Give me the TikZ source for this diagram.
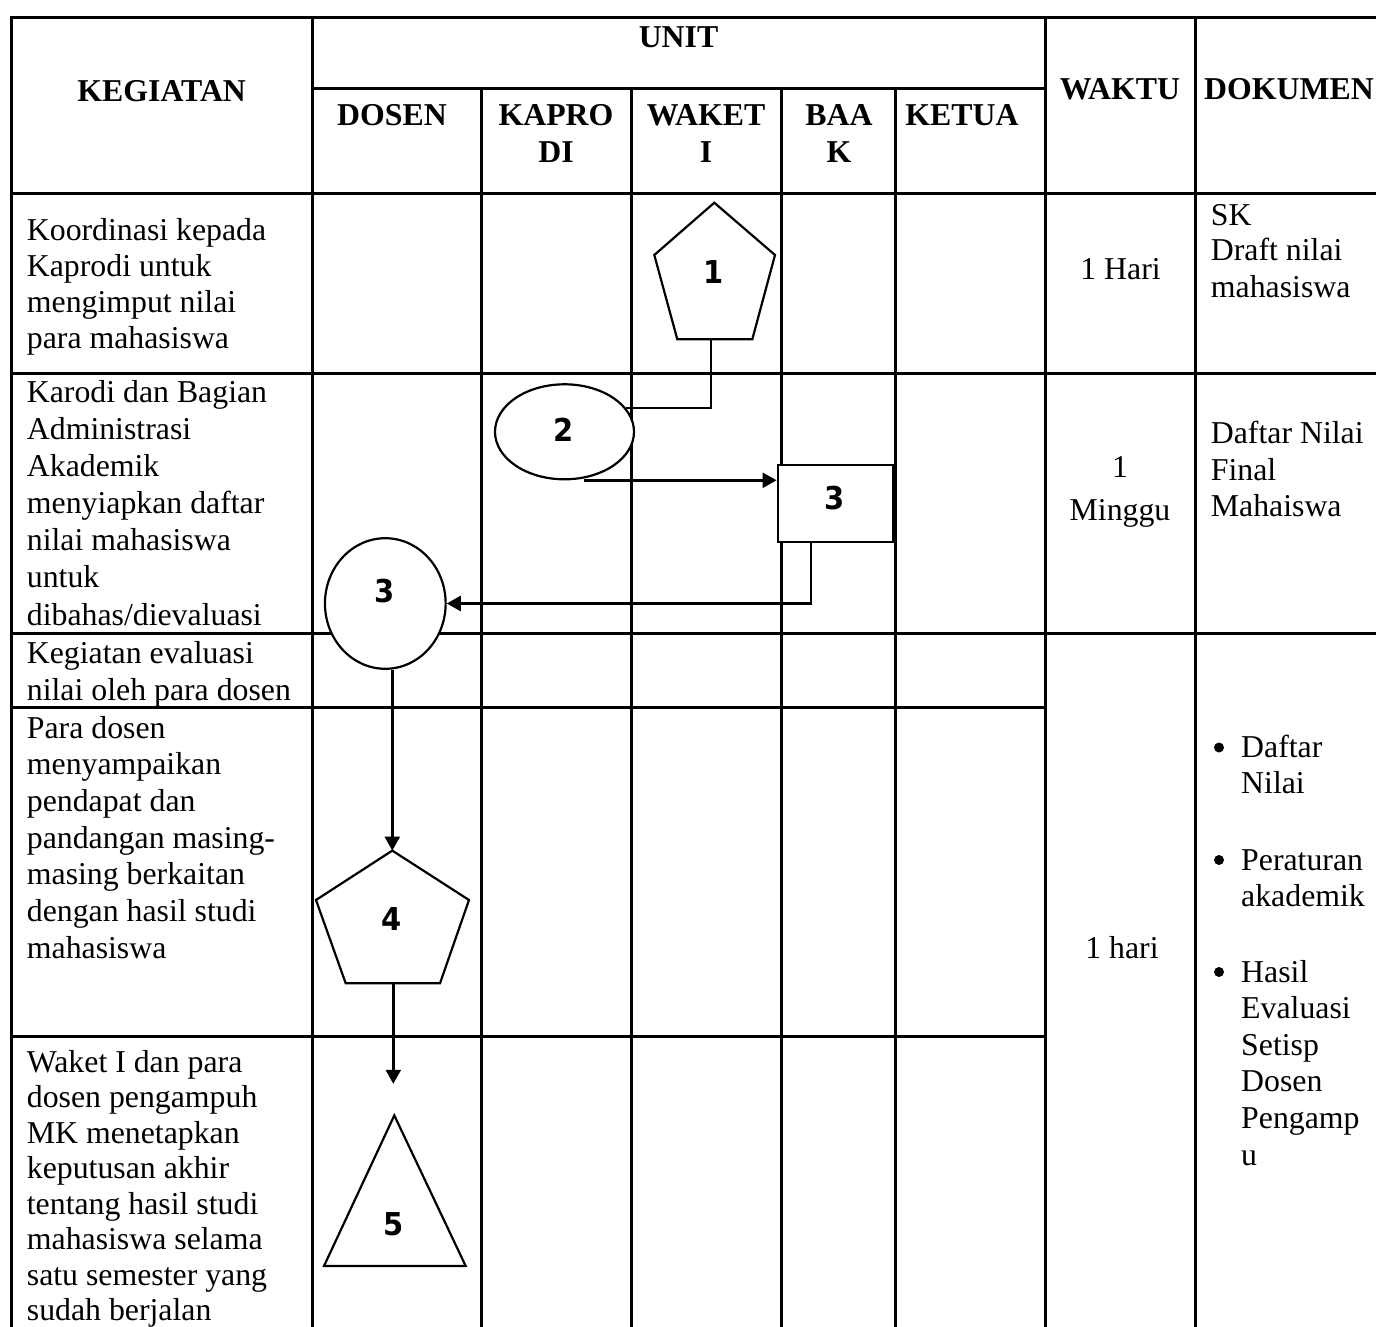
\documentclass[tikz,border=0pt]{standalone}
\usepackage{fontspec}
\setmainfont{Liberation Serif}
\newfontfamily\numfont[FakeStretch=0.92]{DejaVu Sans Bold}
\usetikzlibrary{shapes.geometric,arrows.meta,calc}
\begin{document}
\begin{tikzpicture}[x=1pt,y=-1pt,
  grid/.style={line width=3pt},
  shp/.style={draw, line width=2.2pt, line join=miter, fill=white},
  conn/.style={line width=2.4pt},
  arr/.style={conn,-{Triangle[length=14pt,width=15pt]}},
  body/.style={inner sep=0pt, anchor=base west, font=\fontsize{31.8}{36.6}\selectfont},
  bodyc/.style={body, anchor=base},
  head/.style={inner sep=0pt, anchor=base, font=\fontsize{31.8}{36.6}\selectfont\bfseries},
  num/.style={inner sep=0pt, font=\fontsize{31.5}{32}\selectfont\numfont},
  bul/.style={circle, fill, minimum size=10pt, inner sep=0pt}
]
\useasboundingbox[fill=white] (0,0) rectangle (1376,1327);

% ---------- table grid ----------
\draw[grid] (11.5,1327) -- (11.5,17.7) -- (1376,17.7);
\draw[grid] (312,88.3) -- (1045,88.3);
\draw[grid] (11.5,193.5) -- (1376,193.5);
\draw[grid] (11.5,373) -- (1376,373);
\draw[grid] (11.5,633.5) -- (1376,633.5);
\draw[grid] (11.5,707.7) -- (1045,707.7);
\draw[grid] (11.5,1036) -- (1045,1036);
\draw[grid] (312,17.7) -- (312,1327);
\foreach \xx in {481.7,631.7,781.7,895}
  \draw[grid] (\xx,88.3) -- (\xx,1327);
\draw[grid] (1045,17.7) -- (1045,1327);
\draw[grid] (1195.7,17.7) -- (1195.7,1327);

% ---------- header ----------
\node[head] (hunit) at (678.5,48) {UNIT};
\node[head] (hkeg) at (161.7,101.7) {KEGIATAN};
\node[head] (hdos) at (392,126) {DOSEN};
\node[head] (hkap1) at (556,126) {KAPRO};
\node[head] (hkap2) at (556,162) {DI};
\node[head] (hwak1) at (706,126) {WAKET};
\node[head] (hwak2) at (706,162) {I};
\node[head] (hbaa1) at (839,126) {BAA};
\node[head] (hbaa2) at (839,162) {K};
\node[head] (hket) at (962,126) {KETUA};
\node[head] (hwkt) at (1120,100) {WAKTU};
\node[head] (hdok) at (1289,100) {DOKUMEN};

% ---------- kegiatan column ----------
\foreach \t [count=\i from 0] in {Koordinasi kepada,Kaprodi untuk,mengimput nilai,para mahasiswa}
  \node[body] (ra\i) at (26.7,240+36.3*\i) {\t};
\foreach \t [count=\i from 0] in {Karodi dan Bagian,Administrasi,Akademik,menyiapkan daftar,nilai mahasiswa,untuk,dibahas/dievaluasi}
  \node[body] (rb\i) at (26.7,402.7+37.05*\i) {\t};
\foreach \t [count=\i from 0] in {Kegiatan evaluasi,nilai oleh para dosen}
  \node[body] (rc\i) at (26.7,663.3+36.8*\i) {\t};
\foreach \t [count=\i from 0] in {Para dosen,menyampaikan,pendapat dan,pandangan masing-,masing berkaitan,dengan hasil studi,mahasiswa}
  \node[body] (rd\i) at (26.7,738.3+36.67*\i) {\t};
\foreach \t [count=\i from 0] in {Waket I dan para,dosen pengampuh,MK menetapkan,keputusan akhir,tentang hasil studi,mahasiswa selama,satu semester yang,sudah berjalan}
  \node[body] (re\i) at (26.7,1072+35.5*\i) {\t};

% ---------- waktu column ----------
\node[bodyc] (w1) at (1120.5,279) {1 Hari};
\node[bodyc] (w2a) at (1120,477.5) {1};
\node[bodyc] (w2b) at (1120,520) {Minggu};
\node[bodyc] (w3) at (1122,958) {1 hari};

% ---------- dokumen column ----------
\node[body] (d1a) at (1210.7,225) {SK};
\node[body] (d1b) at (1210.7,260.7) {Draft nilai};
\node[body] (d1c) at (1210.7,297.3) {mahasiswa};
\node[body] (d2a) at (1210.7,443.3) {Daftar Nilai};
\node[body] (d2b) at (1210.7,480) {Final};
\node[body] (d2c) at (1210.7,516.7) {Mahaiswa};
\node[bul] (b1) at (1219,747.5) {};
\node[body] (d3a) at (1241,757.5) {Daftar};
\node[body] (d3b) at (1241,793.5) {Nilai};
\node[bul] (b2) at (1219,860) {};
\node[body] (d3c) at (1241,870) {Peraturan};
\node[body] (d3d) at (1241,906.7) {akademik};
\node[bul] (b3) at (1219,972) {};
\foreach \t [count=\i from 0] in {Hasil,Evaluasi,Setisp,Dosen,Pengamp,u}
  \node[body] (d4\i) at (1241,982+36.6*\i) {\t};

% ---------- flow shapes ----------
\filldraw[shp] (714.3,202.7) coordinate (p1t) -- (775,255) -- (752.3,339.3)
   -- (677.3,339.3) -- (654.3,255) -- cycle;
\coordinate (p1b) at (711,339.3);
\node[num] (n1) at (714,271.7) {1};

\node[shp, ellipse, minimum width=139pt, minimum height=95pt, inner sep=0pt] (e2) at (564.5,431.8) {};
\node[num] (n2) at (564,430) {2};

\node[shp, rectangle, minimum width=115pt, minimum height=76.4pt, inner sep=0pt] (r3) at (835.2,503.5) {};
\node[num] (n3a) at (835,498) {3};

\node[shp, ellipse, minimum width=120.7pt, minimum height=130.6pt, inner sep=0pt] (c3) at (385.3,603.5) {};
\node[num] (n3b) at (385,591.4) {3};

\filldraw[shp] (392.3,850.6) coordinate (p4t) -- (469,900) -- (440,983.3)
   -- (345.7,983.3) -- (316,900) -- cycle;
\coordinate (p4b) at (393.3,983.3);
\node[num] (n4) at (392,919.5) {4};

\filldraw[shp] (394.3,1115.4) coordinate (t5t) -- (465.7,1266) -- (324,1266) -- cycle;
\node[num] (n5) at (394,1224) {5};

% ---------- connectors ----------
\draw[conn] (p1b) |- (e2.21.6);
\coordinate (e2s) at (584.3,480.3);
\draw[arr] (e2s) -- (e2s -| r3.west);
\draw[arr] ([xshift=-24.2pt]r3.south) |- (c3.east);
\draw[arr] (c3.south -| p4t) -- (p4t);
\coordinate (a5) at (393.3,1083.8);
\draw[arr] (p4b) -- (a5);
\end{tikzpicture}
\end{document}
